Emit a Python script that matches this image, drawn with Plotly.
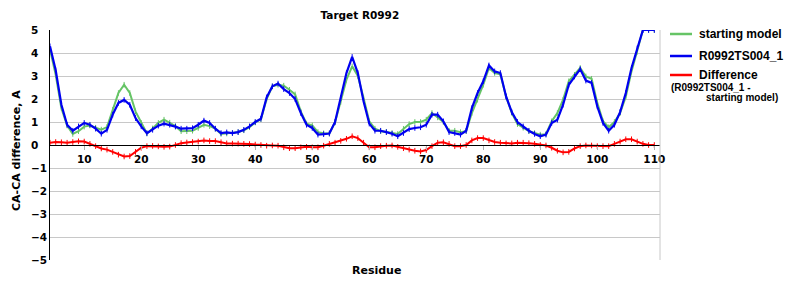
import plotly.graph_objects as go

residues = list(range(4, 111))

starting_model = [
    4.15, 3.05, 1.60, 0.85, 0.48, 0.60, 0.80, 0.85, 0.75, 0.67,
    0.78, 1.53, 2.26, 2.62, 2.26, 1.46, 0.96, 0.50, 0.72, 0.96,
    1.10, 0.97, 0.82, 0.60, 0.60, 0.62, 0.74, 0.88, 0.82, 0.71,
    0.48, 0.50, 0.52, 0.56, 0.64, 0.78, 0.98, 1.12, 2.00, 2.55,
    2.62, 2.58, 2.40, 2.20, 1.45, 0.93, 0.85, 0.56, 0.51, 0.50,
    0.98, 1.87, 2.84, 3.42, 3.00, 2.04, 1.03, 0.71, 0.60, 0.57,
    0.52, 0.48, 0.70, 0.91, 1.00, 1.00, 1.10, 1.39, 1.20, 1.00,
    0.62, 0.62, 0.56, 0.60, 1.39, 1.97, 2.62, 3.35, 3.13, 3.08,
    2.10, 1.40, 0.91, 0.75, 0.60, 0.52, 0.45, 0.47, 1.03, 1.39,
    1.97, 2.77, 3.05, 3.35, 2.98, 2.88, 1.83, 1.03, 0.77, 1.00,
    1.39, 2.10, 3.20, 4.05, 5.00, 5.00, 5.00,
]

model = [
    4.29, 3.25, 1.75, 0.88, 0.62, 0.81, 0.96, 0.88, 0.71, 0.49,
    0.66, 1.32, 1.83, 1.96, 1.75, 1.17, 0.81, 0.51, 0.66, 0.84,
    0.93, 0.88, 0.80, 0.71, 0.71, 0.73, 0.88, 1.06, 0.96, 0.71,
    0.52, 0.55, 0.52, 0.56, 0.66, 0.81, 1.00, 1.14, 2.07, 2.55,
    2.67, 2.43, 2.26, 2.00, 1.39, 0.88, 0.74, 0.45, 0.47, 0.50,
    1.00, 2.04, 3.13, 3.83, 3.13, 1.90, 0.93, 0.62, 0.62, 0.56,
    0.49, 0.38, 0.52, 0.69, 0.74, 0.77, 0.88, 1.32, 1.32, 1.03,
    0.56, 0.52, 0.45, 0.62, 1.60, 2.26, 2.77, 3.46, 3.20, 3.13,
    2.11, 1.43, 1.00, 0.81, 0.62, 0.48, 0.38, 0.45, 0.96, 1.10,
    1.75, 2.62, 2.98, 3.30, 2.80, 2.70, 1.68, 0.96, 0.62, 0.88,
    1.43, 2.26, 3.35, 4.20, 5.00, 5.00, 5.00,
]

difference = [
    0.10, 0.13, 0.12, 0.10, 0.13, 0.16, 0.15, 0.05, -0.05, -0.15,
    -0.20, -0.30, -0.42, -0.50, -0.48, -0.30, -0.12, -0.05, -0.04, -0.06,
    -0.08, -0.07, 0.00, 0.08, 0.11, 0.13, 0.15, 0.20, 0.17, 0.17,
    0.12, 0.07, 0.06, 0.06, 0.05, 0.04, 0.02, 0.00, -0.03, -0.02,
    -0.03, -0.10, -0.14, -0.14, -0.10, -0.08, -0.10, -0.10, -0.03, 0.05,
    0.10, 0.18, 0.27, 0.38, 0.30, 0.10, -0.10, -0.10, -0.05, -0.03,
    -0.02, -0.08, -0.14, -0.20, -0.25, -0.28, -0.22, -0.05, 0.10, 0.12,
    0.05, -0.05, -0.05, 0.00, 0.20, 0.30, 0.30, 0.20, 0.13, 0.10,
    0.07, 0.07, 0.10, 0.10, 0.08, 0.05, 0.00, -0.02, -0.12, -0.25,
    -0.32, -0.30, -0.15, -0.05, -0.02, -0.02, -0.05, -0.05, -0.05, 0.05,
    0.15, 0.25, 0.25, 0.15, 0.05, 0.00, 0.00,
]

x_ticks = [10, 20, 30, 40, 50, 60, 70, 80, 90, 100, 110]
y_ticks = [-5, -4, -3, -2, -1, 0, 1, 2, 3, 4, 5]

GREEN = "#66c466"
BLUE = "#0000f0"
RED = "#ff0000"
AXFONT = "DejaVu Sans"
LGFONT = "Liberation Sans"

fig = go.Figure()
for name, vals, col, w in [
    ("starting model", starting_model, GREEN, 2),
    ("R0992TS004_1", model, BLUE, 2.2),
    ("Difference", difference, RED, 2),
]:
    fig.add_trace(go.Scatter(
        x=residues, y=vals, name=name, mode="lines+markers",
        line=dict(color=col, width=w),
        marker=dict(symbol="line-ns", size=4, line=dict(color=col, width=1)),
        showlegend=False, cliponaxis=True,
    ))

fig.update_layout(
    width=800, height=300,
    margin=dict(l=50, r=140, t=30, b=40),
    plot_bgcolor="white", paper_bgcolor="white",
    title=dict(text="<b>Target R0992</b>", x=0.508, xref="paper", xanchor="center",
               y=0.95, yanchor="middle", font=dict(family=AXFONT, size=10.5, color="black")),
    xaxis=dict(
        range=[4, 111], tickvals=x_ticks, ticktext=[str(v) for v in x_ticks],
        anchor="free", position=0.5, showline=True, linecolor="black", linewidth=1,
        showgrid=False, zeroline=False, ticks="outside", ticklen=4, tickcolor="#b0b0b0",
        tickfont=dict(family=AXFONT, size=10.5, color="black", weight="bold"),
    ),
    yaxis=dict(
        range=[-5, 5], tickvals=y_ticks, showgrid=True, gridcolor="#c8c8c8", gridwidth=1,
        zeroline=False, showline=True, linecolor="black", linewidth=1, ticks="",
        showticklabels=False,
    ),
)

# y tick labels, left aligned like the original
for v in y_ticks:
    fig.add_annotation(text="<b>" + str(v).replace("-", "\u2212") + "</b>",
                       xref="paper", yref="y", x=(29 - 50) / 610, y=v,
                       showarrow=False, xanchor="left", yanchor="middle",
                       font=dict(family=AXFONT, size=10.5, color="black"))

# y axis title
fig.add_annotation(text="<b>CA-CA difference, A</b>", xref="paper", yref="paper",
                   x=(16 - 50) / 610, y=(260 - 151) / 230, textangle=-90,
                   showarrow=False, xanchor="center", yanchor="middle",
                   font=dict(family=AXFONT, size=11, color="black"))

# right border of plot area
fig.add_shape(type="line", xref="paper", yref="paper", x0=1, x1=1, y0=0, y1=1,
              line=dict(color="#c8c8c8", width=1))

# x axis title
fig.add_annotation(text="<b>Residue</b>", xref="paper", yref="paper",
                   x=(376 - 50) / 610, y=(260 - 270) / 230, showarrow=False,
                   xanchor="center", yanchor="middle",
                   font=dict(family=AXFONT, size=11, color="black"))

# legend (drawn manually)
def px(xp):
    return (xp - 50) / 610

def py(yp):
    return (260 - yp) / 230

legend_items = [("starting model", GREEN, 34), ("R0992TS004_1", BLUE, 56), ("Difference", RED, 75)]
for label, col, yy in legend_items:
    fig.add_shape(type="line", xref="paper", yref="paper", x0=px(670), x1=px(692),
                  y0=py(yy), y1=py(yy), line=dict(color=col, width=2.5))
    fig.add_annotation(text="<b>" + label + "</b>", xref="paper", yref="paper",
                       x=px(697), y=py(yy), showarrow=False, xanchor="left", yanchor="middle",
                       font=dict(family=LGFONT, size=12, color="black"))
fig.add_annotation(text="<b>(R0992TS004_1 -</b>", xref="paper", yref="paper",
                   x=px(669), y=py(87), showarrow=False, xanchor="left", yanchor="middle",
                   font=dict(family=LGFONT, size=10, color="black"))
fig.add_annotation(text="<b>starting model)</b>", xref="paper", yref="paper",
                   x=px(704), y=py(97), showarrow=False, xanchor="left", yanchor="middle",
                   font=dict(family=LGFONT, size=10, color="black"))

fig.write_html("out.html")
